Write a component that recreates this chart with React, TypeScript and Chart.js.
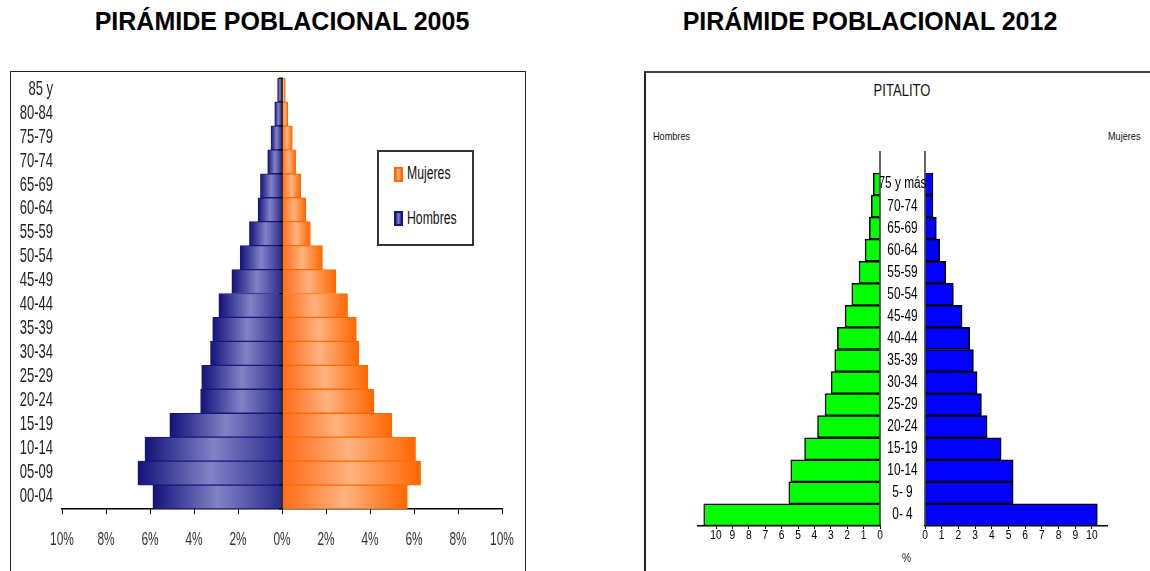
import React, { useEffect, useRef } from 'react';
import { Chart, registerables } from 'chart.js';

Chart.register(...registerables);

// ---------- DATA ----------
const ages2005 = ['85 y', '80-84', '75-79', '70-74', '65-69', '60-64', '55-59', '50-54', '45-49', '40-44', '35-39', '30-34', '25-29', '20-24', '15-19', '10-14', '05-09', '00-04'];
const hombres2005 = [0.2, 0.33, 0.5, 0.65, 0.98, 1.09, 1.48, 1.9, 2.28, 2.87, 3.15, 3.25, 3.65, 3.7, 5.1, 6.23, 6.55, 5.87];
const mujeres2005 = [0.15, 0.26, 0.47, 0.62, 0.85, 1.08, 1.29, 1.84, 2.45, 2.98, 3.38, 3.5, 3.9, 4.18, 4.99, 6.07, 6.3, 5.7];
const pctTicks2005 = [-10, -8, -6, -4, -2, 0, 2, 4, 6, 8, 10];

const ages2012 = ['75 y más', '70-74', '65-69', '60-64', '55-59', '50-54', '45-49', '40-44', '35-39', '30-34', '25-29', '20-24', '15-19', '10-14', '5- 9', '0- 4'];
const hombres2012 = [0.41, 0.53, 0.65, 0.91, 1.28, 1.72, 2.13, 2.6, 2.76, 2.98, 3.35, 3.81, 4.6, 5.44, 5.56, 10.75];
const mujeres2012 = [0.48, 0.48, 0.68, 0.88, 1.24, 1.7, 2.22, 2.68, 2.9, 3.12, 3.38, 3.72, 4.56, 5.28, 5.28, 10.32];
const unitTicks2012 = [0, 1, 2, 3, 4, 5, 6, 7, 8, 9, 10];

const ARIAL = "'Liberation Sans', Arial, sans-serif";

// draw horizontally condensed text (imitates a narrow font)
function drawCondensed(ctx: CanvasRenderingContext2D, text: string, x: number, y: number, align: CanvasTextAlign, size: number, sx: number, color: string) {
  ctx.save();
  ctx.font = `${size}px ${ARIAL}`;
  ctx.fillStyle = color;
  ctx.textBaseline = 'middle';
  ctx.textAlign = align;
  ctx.translate(x, y);
  ctx.scale(sx, 1);
  ctx.fillText(text, 0, 0);
  ctx.restore();
}

// ---------- 2005 pyramid ----------
function Pyramid2005() {
  const ref = useRef<HTMLCanvasElement>(null);
  useEffect(() => {
    const gradFill = (c0: string, mid: string, c1: string) => (ctx: any) => {
      const chart = ctx.chart;
      const xs = chart.scales && chart.scales.x;
      if (ctx.type !== 'data' || !xs) return mid;
      const v = ctx.raw as number;
      const a = xs.getPixelForValue(0);
      const b = xs.getPixelForValue(v);
      if (!isFinite(a) || !isFinite(b) || Math.abs(a - b) < 1) return mid;
      const g = chart.ctx.createLinearGradient(a, 0, b, 0);
      g.addColorStop(0, c0);
      g.addColorStop(0.5, mid);
      g.addColorStop(1, c1);
      return g;
    };
    const decor = {
      id: 'decor2005',
      afterDatasetsDraw(chart: any) {
        const { ctx, chartArea, scales } = chart;
        const x = scales.x.getPixelForValue(0);
        ctx.save();
        ctx.strokeStyle = '#000';
        ctx.lineWidth = 1.5;
        ctx.beginPath();
        ctx.moveTo(x, chartArea.top);
        ctx.lineTo(x, chartArea.bottom);
        ctx.stroke();
        const n = ages2005.length;
        const h = (chartArea.bottom - chartArea.top) / n;
        ctx.lineWidth = 1;
        for (let i = 0; i <= n; i++) {
          const y = chartArea.top + i * h;
          ctx.beginPath();
          ctx.moveTo(x - 3, y);
          ctx.lineTo(x + 1, y);
          ctx.stroke();
        }
        ctx.restore();
      },
      afterDraw(chart: any) {
        const { ctx, chartArea, scales } = chart;
        const ys = scales.y;
        ages2005.forEach((lab, i) => {
          drawCondensed(ctx, lab, chartArea.left - 9, ys.getPixelForValue(i) - 1, 'right', 21, 0.62, '#222');
        });
        pctTicks2005.forEach((v) => {
          drawCondensed(ctx, Math.abs(v) + '%', scales.x.getPixelForValue(v), chartArea.bottom + 31, 'center', 18, 0.66, '#333');
        });
      },
    };
    const chart = new Chart(ref.current as HTMLCanvasElement, {
      type: 'bar',
      data: {
        labels: ages2005,
        datasets: [
          {
            label: 'Hombres',
            data: hombres2005.map((v) => -v),
            backgroundColor: gradFill('#2a2a8c', '#8282c6', '#12127a') as any,
            borderColor: '#16167c',
            borderWidth: 1,
            barPercentage: 1,
            categoryPercentage: 1,
            stack: 's',
          },
          {
            label: 'Mujeres',
            data: mujeres2005,
            backgroundColor: gradFill('#ff6a14', '#ffb380', '#ff6600') as any,
            borderColor: '#ff6a00',
            borderWidth: 1,
            barPercentage: 1,
            categoryPercentage: 1,
            stack: 's',
          },
        ],
      },
      options: {
        indexAxis: 'y',
        responsive: false,
        animation: false,
        layout: { padding: { left: 50, right: 21, top: 5, bottom: 0 } },
        plugins: { legend: { display: false }, tooltip: { enabled: false } },
        scales: {
          x: {
            stacked: true,
            min: -10,
            max: 10,
            afterBuildTicks: (s: any) => {
              s.ticks = pctTicks2005.map((v) => ({ value: v }));
            },
            ticks: { display: false },
            grid: { drawOnChartArea: false, drawTicks: true, tickLength: 5, color: '#000' },
            border: { display: true, color: '#000', width: 1.5 },
            afterFit: (s: any) => {
              s.height = 62;
            },
          },
          y: { stacked: true, display: false },
        },
      } as any,
      plugins: [decor],
    });
    return () => chart.destroy();
  }, []);
  return <canvas ref={ref} width={511} height={498} style={{ position: 'absolute', left: 12, top: 73 }} />;
}

// ---------- 2012 pyramid ----------
function Panel2012({ side }: { side: 'left' | 'right' }) {
  const ref = useRef<HTMLCanvasElement>(null);
  const isLeft = side === 'left';
  useEffect(() => {
    const decor = {
      id: 'decor2012',
      afterDatasetsDraw(chart: any) {
        const { ctx, chartArea } = chart;
        const n = ages2012.length;
        const h = (chartArea.bottom - chartArea.top) / n;
        const x = isLeft ? chartArea.right : chartArea.left;
        ctx.save();
        ctx.strokeStyle = '#000';
        ctx.lineWidth = 1.2;
        ctx.beginPath();
        ctx.moveTo(x, chartArea.top - h);
        ctx.lineTo(x, chartArea.bottom);
        ctx.stroke();
        ctx.restore();
      },
      afterDraw(chart: any) {
        const { ctx, chartArea, scales } = chart;
        unitTicks2012.forEach((v) => {
          drawCondensed(ctx, String(v), scales.x.getPixelForValue(v), chartArea.bottom + 10, 'center', 12, 0.85, '#000');
        });
        if (!isLeft) {
          ages2012.forEach((lab, i) => {
            drawCondensed(ctx, lab, chartArea.left - 22.5, scales.y.getPixelForValue(i), 'center', 16, 0.74, '#000');
          });
        }
      },
    };
    const chart = new Chart(ref.current as HTMLCanvasElement, {
      type: 'bar',
      data: {
        labels: ages2012,
        datasets: [
          {
            label: isLeft ? 'Hombres' : 'Mujeres',
            data: isLeft ? hombres2012 : mujeres2012,
            backgroundColor: isLeft ? '#00ff00' : '#0000ff',
            borderColor: '#000',
            borderWidth: 1.5,
            barPercentage: 1,
            categoryPercentage: 1,
          },
        ],
      },
      options: {
        indexAxis: 'y',
        responsive: false,
        animation: false,
        layout: {
          padding: isLeft ? { left: 48, right: 4, top: 33, bottom: 0 } : { left: 45, right: 43, top: 33, bottom: 0 },
        },
        plugins: { legend: { display: false }, tooltip: { enabled: false } },
        scales: {
          x: {
            reverse: isLeft,
            min: 0,
            max: isLeft ? 11.1 : 10.9,
            afterBuildTicks: (s: any) => {
              s.ticks = unitTicks2012.map((v) => ({ value: v }));
            },
            ticks: { display: false },
            grid: { drawOnChartArea: false, drawTicks: true, tickLength: 3, color: '#000' },
            border: { display: true, color: '#000', width: 1.5 },
            afterFit: (s: any) => {
              s.height = 45;
            },
          },
          y: { display: false },
        },
      } as any,
      plugins: [decor],
    });
    return () => chart.destroy();
  }, []);
  return isLeft ? (
    <canvas ref={ref} width={234} height={431} style={{ position: 'absolute', left: 650, top: 140 }} />
  ) : (
    <canvas ref={ref} width={270} height={431} style={{ position: 'absolute', left: 880, top: 140 }} />
  );
}

const abs = (o: any): React.CSSProperties => ({ position: 'absolute', ...o });
const narrow = (size: number, sx: number, origin = 'left center'): React.CSSProperties => ({
  fontFamily: ARIAL,
  fontSize: size,
  transform: `scaleX(${sx})`,
  transformOrigin: origin,
  whiteSpace: 'nowrap',
  color: '#111',
});

export default function App() {
  return (
    <div style={abs({ left: 0, top: 0, width: 1150, height: 571, overflow: 'hidden', background: '#fff', fontFamily: ARIAL })}>
      <div style={abs({ left: 32, top: 8, width: 500, textAlign: 'center', fontWeight: 'bold', fontSize: 25, lineHeight: '26px', color: '#000' })}>
        PIRÁMIDE POBLACIONAL 2005
      </div>
      <div style={abs({ left: 620, top: 8, width: 500, textAlign: 'center', fontWeight: 'bold', fontSize: 25, lineHeight: '26px', color: '#000' })}>
        PIRÁMIDE POBLACIONAL 2012
      </div>

      {/* 2005 frame */}
      <div style={abs({ left: 10, top: 71, width: 516, height: 600, border: '1.5px solid #222', boxSizing: 'border-box' })} />
      <Pyramid2005 />
      {/* 2005 legend */}
      <div style={abs({ left: 377, top: 150, width: 97, height: 96, border: '2px solid #333', boxSizing: 'border-box', background: '#fff' })} />
      <div style={abs({ left: 394, top: 167, width: 9, height: 15, boxSizing: 'border-box', border: '2px solid #ff6a00', background: 'linear-gradient(90deg,#ff7a20,#ffb380,#ff7a20)' })} />
      <div style={abs({ left: 407, top: 162, lineHeight: '22px', ...narrow(18, 0.68) })}>Mujeres</div>
      <div style={abs({ left: 394, top: 211, width: 9, height: 15, boxSizing: 'border-box', border: '2px solid #16167c', background: 'linear-gradient(90deg,#2a2a8c,#8282c6,#2a2a8c)' })} />
      <div style={abs({ left: 407, top: 207, lineHeight: '22px', ...narrow(18, 0.68) })}>Hombres</div>

      {/* 2012 frame */}
      <div style={abs({ left: 644, top: 71, width: 600, height: 600, borderTop: '2px solid #444', borderLeft: '2px solid #222', boxSizing: 'border-box' })} />
      <div style={abs({ left: 852, top: 80, width: 100, textAlign: 'center', lineHeight: '20px', ...narrow(16.5, 0.79, 'center center') })}>PITALITO</div>
      <div style={abs({ left: 653, top: 129, lineHeight: '14px', ...narrow(11, 0.83) })}>Hombres</div>
      <div style={abs({ left: 1108, top: 129, lineHeight: '14px', ...narrow(11, 0.83) })}>Mujeres</div>
      <Panel2012 side="left" />
      <Panel2012 side="right" />
      <div style={abs({ left: 902, top: 551, lineHeight: '14px', ...narrow(12, 0.85) })}>%</div>
    </div>
  );
}
